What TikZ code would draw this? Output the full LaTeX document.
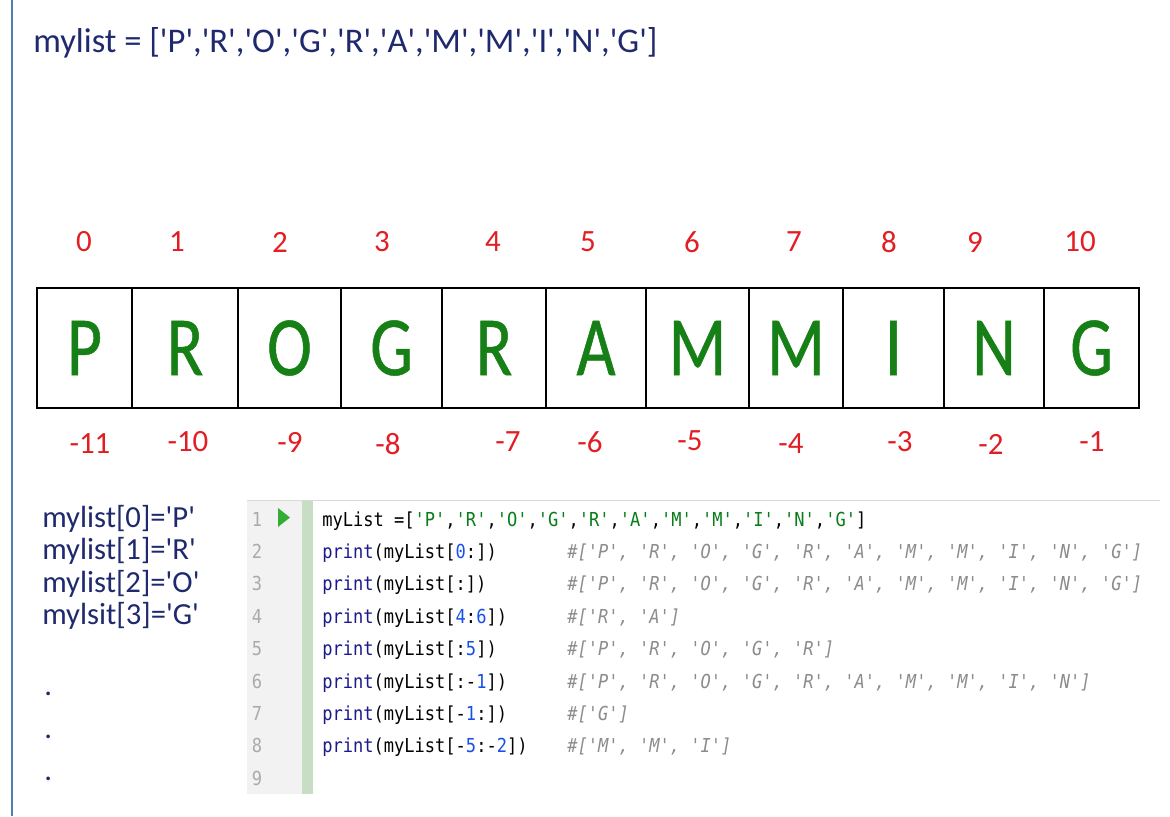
\documentclass[tikz,border=0pt]{standalone}
\usepackage{fontspec}
\usepackage{xcolor}
\usepackage{tikz}
\usetikzlibrary{positioning}
\setmainfont{Carlito}[Ligatures=TeXOff]
\newfontfamily\cellfont{Carlito}[Ligatures=TeXOff,FakeStretch=0.8,FakeBold=0.6]
\newfontfamily\codefont{DejaVu Sans Mono}[Ligatures=TeXOff,FakeStretch=0.885]
\definecolor{navy}{RGB}{31,42,110}
\definecolor{idxred}{RGB}{226,30,36}
\definecolor{lettergreen}{RGB}{22,128,22}
\definecolor{sideblue}{RGB}{80,128,186}
\definecolor{kwblue}{RGB}{26,26,140}
\definecolor{numblue}{RGB}{23,80,235}
\definecolor{strgreen}{RGB}{6,125,23}
\definecolor{cmtgray}{RGB}{140,140,140}
\definecolor{guttergray}{RGB}{242,242,242}
\definecolor{barGreen}{RGB}{200,222,196}
\definecolor{lngray}{RGB}{170,170,170}
\newcommand{\qs}[1]{\textcolor{strgreen}{'#1'}}
\newcommand{\kw}{\textcolor{kwblue}{print}}
\newcommand{\nm}[1]{\textcolor{numblue}{#1}}
\tikzset{
	cell/.style={draw,line width=1.8pt,inner sep=0pt,minimum height=3cm,
		text=lettergreen,font=\cellfont\fontsize{60}{60}\selectfont},
	idx/.style={text=idxred,inner sep=0pt,font=\fontsize{22}{22}\selectfont},
	acc/.style={text=navy,inner sep=0pt,anchor=base west,font=\fontsize{21.8}{21.8}\selectfont},
	codeline/.style={inner sep=0pt,anchor=base west,font=\codefont\fontsize{13.7}{13.7}\selectfont},
	comment/.style={codeline,text=cmtgray,font=\codefont\itshape\fontsize{13.7}{13.7}\selectfont},
	lnum/.style={inner sep=0pt,anchor=base,text=lngray,font=\codefont\fontsize{13.7}{13.7}\selectfont}
}

\begin{document}
\begin{tikzpicture}[x=0.025cm,y=-0.025cm]
	\useasboundingbox (0,0) rectangle (1170,816);
	\fill[white] (0,0) rectangle (1170,816);
	\draw[sideblue,line width=1.4pt] (12,0) -- (12,816);
	% heading
	\node[inner sep=0pt,anchor=base west,text=navy,font=\fontsize{24.6}{24.6}\selectfont] (title) at (33,52)
		{mylist = ['P','R','O','G','R','A','M','M','I','N','G']};
	% the cells
	\node[cell,minimum width=2.375cm] (cell0) at (84.5,348) {P};
	\node[cell,minimum width=2.65cm] (cell1) at (185,348) {R};
	\node[cell,minimum width=2.575cm] (cell2) at (289.5,348) {O};
	\node[cell,minimum width=2.525cm] (cell3) at (391.5,348) {G};
	\node[cell,minimum width=2.6cm] (cell4) at (494,348) {R};
	\node[cell,minimum width=2.5cm] (cell5) at (596,348) {A};
	\node[cell,minimum width=2.575cm] (cell6) at (697.5,348) {M};
	\node[cell,minimum width=2.35cm] (cell7) at (796,348) {M};
	\node[cell,minimum width=2.525cm] (cell8) at (893.5,348) {I};
	\node[cell,minimum width=2.5cm] (cell9) at (994,348) {N};
	\node[cell,minimum width=2.375cm] (cell10) at (1091.5,348) {G};
	% positive index
	\node[idx] (pos0) at (84,242) {0};
	\node[idx] (pos1) at (177,242) {1};
	\node[idx] (pos2) at (280,242) {2};
	\node[idx] (pos3) at (382,242) {3};
	\node[idx] (pos4) at (493,242) {4};
	\node[idx] (pos5) at (588,242) {5};
	\node[idx] (pos6) at (692,242) {6};
	\node[idx] (pos7) at (794,242) {7};
	\node[idx] (pos8) at (889,242) {8};
	\node[idx] (pos9) at (975,242) {9};
	\node[idx] (pos10) at (1080,242) {10};
	% negative index
	\node[idx] (neg11) at (90,444) {-11};
	\node[idx] (neg10) at (188,442) {-10};
	\node[idx] (neg9) at (290,442) {-9};
	\node[idx] (neg8) at (388,444) {-8};
	\node[idx] (neg7) at (508,442) {-7};
	\node[idx] (neg6) at (590,442) {-6};
	\node[idx] (neg5) at (690,441) {-5};
	\node[idx] (neg4) at (791,444) {-4};
	\node[idx] (neg3) at (900,442) {-3};
	\node[idx] (neg2) at (991,444) {-2};
	\node[idx] (neg1) at (1092,442) {-1};
	% access examples
	\node[acc] (acc0) at (42,527) {mylist[0]='P'};
	\node[acc] (acc1) at (42,559) {mylist[1]='R'};
	\node[acc] (acc2) at (42,592) {mylist[2]='O'};
	\node[acc] (acc3) at (42,624) {mylsit[3]='G'};
	\node[acc] (dot1) at (44,695) {.};
	\node[acc] (dot2) at (44,738) {.};
	\node[acc] (dot3) at (44,780) {.};
	% editor
	\fill[guttergray] (247,500) rectangle (302,794);
	\fill[barGreen] (302,500) rectangle (313,794);
	\draw[black!15,line width=0.5pt] (247,500) -- (1160,500);
	\fill[green!60!black!80] (278,508) -- (290,517.5) -- (278,527) -- cycle;
	\node[lnum] (ln1) at (257,526) {1};
	\node[lnum] (ln2) at (257,558) {2};
	\node[lnum] (ln3) at (257,590.5) {3};
	\node[lnum] (ln4) at (257,623) {4};
	\node[lnum] (ln5) at (257,655) {5};
	\node[lnum] (ln6) at (257,688) {6};
	\node[lnum] (ln7) at (257,720) {7};
	\node[lnum] (ln8) at (257,752.5) {8};
	\node[lnum] (ln9) at (257,785) {9};
	\node[codeline] (code1) at (322,526)
		{myList =[\qs{P},\qs{R},\qs{O},\qs{G},\qs{R},\qs{A},\qs{M},\qs{M},\qs{I},\qs{N},\qs{G}]};
	\node[codeline] (code2) at (322,558) {\kw(myList[\nm{0}:])};
	\node[codeline] (code3) at (322,590.5) {\kw(myList[:])};
	\node[codeline] (code4) at (322,623) {\kw(myList[\nm{4}:\nm{6}])};
	\node[codeline] (code5) at (322,655) {\kw(myList[:\nm{5}])};
	\node[codeline] (code6) at (322,688) {\kw(myList[:-\nm{1}])};
	\node[codeline] (code7) at (322,720) {\kw(myList[-\nm{1}:])};
	\node[codeline] (code8) at (322,752.5) {\kw(myList[-\nm{5}:-\nm{2}])};
	\node[comment] (out2) at (567,558) {\#['P', 'R', 'O', 'G', 'R', 'A', 'M', 'M', 'I', 'N', 'G']};
	\node[comment] (out3) at (567,590.5) {\#['P', 'R', 'O', 'G', 'R', 'A', 'M', 'M', 'I', 'N', 'G']};
	\node[comment] (out4) at (567,623) {\#['R', 'A']};
	\node[comment] (out5) at (567,655) {\#['P', 'R', 'O', 'G', 'R']};
	\node[comment] (out6) at (567,688) {\#['P', 'R', 'O', 'G', 'R', 'A', 'M', 'M', 'I', 'N']};
	\node[comment] (out7) at (567,720) {\#['G']};
	\node[comment] (out8) at (567,752.5) {\#['M', 'M', 'I']};
\end{tikzpicture}
\end{document}
